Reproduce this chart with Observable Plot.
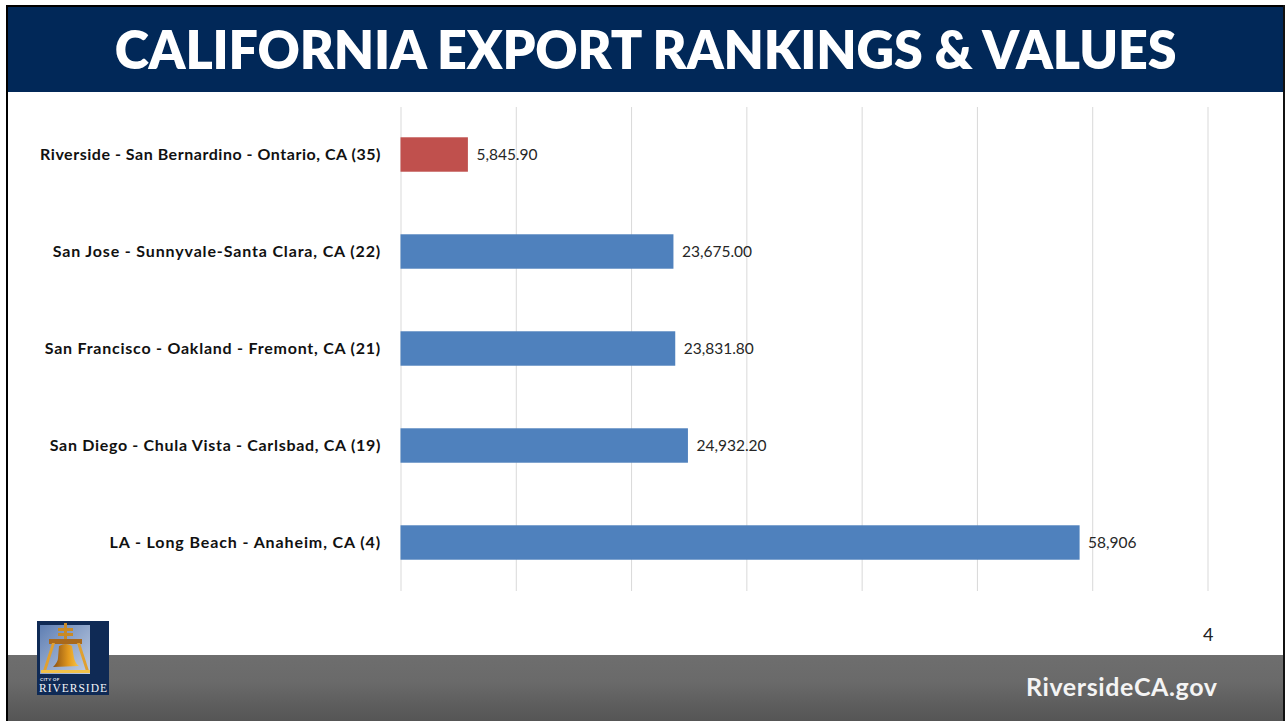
<!DOCTYPE html>
<html>
<head>
<meta charset="utf-8">
<script src="https://cdn.jsdelivr.net/npm/d3@7"></script>
<script src="https://cdn.jsdelivr.net/npm/@observablehq/plot@0.6"></script>
<style>
html,body{margin:0;padding:0;background:#fff;width:1286px;height:721px;overflow:hidden;font-family:Lato,sans-serif}
#frameL{position:absolute;left:6px;top:5px;width:2px;height:716px;background:#000}
#frameT{position:absolute;left:6px;top:5px;width:1279px;height:2px;background:#000}
#frameR{position:absolute;left:1283px;top:5px;width:2px;height:716px;background:#111}
#header{position:absolute;left:8px;top:7px;width:1275px;height:85px;background:#012858;color:#fff;font:800 52px Lato,sans-serif;text-align:center;line-height:84px;letter-spacing:-0.15px;white-space:nowrap}
#footer{position:absolute;left:8px;top:655px;width:1275px;height:66px;background:linear-gradient(#6e6e6e,#6a6a6a 40%,#555);}
#site{position:absolute;left:1026px;top:671px;color:#f4f4f4;font:700 25px Lato,sans-serif;letter-spacing:.6px;white-space:nowrap}
#page{position:absolute;left:1203px;top:623px;color:#222;font:400 18px Lato,sans-serif}
#chart{position:absolute;left:0;top:92px}
#logo{position:absolute;left:37px;top:621px}
</style>
</head>
<body>
<div id="footer"></div>
<div id="frameL"></div><div id="frameT"></div><div id="frameR"></div>
<div id="header">CALIFORNIA EXPORT RANKINGS &amp; VALUES</div>
<div id="chart"></div>
<div id="page">4</div>
<div id="site">RiversideCA.gov</div>
<svg id="logo" width="72" height="74" viewBox="0 0 72 74">
  <defs>
    <linearGradient id="sky" x1="0" y1="0" x2="1" y2="1"><stop offset="0" stop-color="#5f7fb3"/><stop offset="1" stop-color="#c3cfe4"/></linearGradient>
    <linearGradient id="gold" x1="0" y1="0" x2="1" y2="0"><stop offset="0" stop-color="#8a4f12"/><stop offset=".6" stop-color="#e39a1e"/><stop offset="1" stop-color="#f7c64a"/></linearGradient>
  </defs>
  <rect width="72" height="74" fill="#0f2a55"/>
  <rect x="3" y="4" width="50" height="49" fill="url(#sky)"/>
  <rect x="27" y="2" width="3" height="17" fill="#c98a25"/>
  <rect x="21" y="7" width="15" height="3" fill="#c98a25"/>
  <rect x="21" y="12" width="15" height="3" fill="#c98a25"/>
  <rect x="12" y="18" width="33" height="5" fill="#a9691c"/>
  <path d="M15 22 L6 50 L9 50 L18 22Z M40 22 L49 50 L52 50 L43 22Z" fill="#e0a030"/>
  <rect x="4" y="49" width="49" height="3" fill="#f1c14a"/>
  <path d="M22 25 Q29 21 35 25 L37 37 Q38 42 42 45 L16 46 Q21 41 21 37Z" fill="url(#gold)"/>
  <text x="3" y="60" font-family="Lato,sans-serif" font-size="4.5" font-weight="700" fill="#e8edf5" letter-spacing=".4">CITY OF</text>
  <text x="2" y="71" font-family="'Liberation Serif',serif" font-size="11.5" fill="#f2f4f8" textLength="68">RIVERSIDE</text>
</svg>
<script>
const categories = [
  "Riverside - San Bernardino - Ontario, CA (35)",
  "San Jose - Sunnyvale-Santa Clara, CA (22)",
  "San Francisco - Oakland - Fremont, CA (21)",
  "San Diego - Chula Vista - Carlsbad, CA (19)",
  "LA - Long Beach - Anaheim, CA (4)"
];
const values = [5845.9, 23675, 23831.8, 24932.2, 58906];
const valueLabels = ["5,845.90", "23,675.00", "23,831.80", "24,932.20", "58,906"];
const groups = ["Riverside", "Other", "Other", "Other", "Other"];
const gridTicks = [0, 10000, 20000, 30000, 40000, 50000, 60000, 70000];
const labelSpacing = [0.53, 0.85, 0.77, 0.69, 0.89];

const rows = categories.map((c, i) => ({c, v: values[i], label: valueLabels[i], g: groups[i]}));

const plot = Plot.plot({
  width: 1286,
  height: 563,
  marginLeft: 400.5,
  marginRight: 78.5,
  marginTop: 14,
  marginBottom: 64,
  style: {background: "transparent", overflow: "visible"},
  x: {domain: [0, 70000], axis: null},
  y: {domain: categories, paddingInner: 0.645, paddingOuter: 0.3225, round: false, label: null},
  color: {domain: ["Riverside", "Other"], range: ["#c0504d", "#4f81bd"]},
  marks: [
    Plot.ruleX(gridTicks, {stroke: "#d9d9d9", strokeWidth: 1, insetTop: 1}),
    Plot.barX(rows, {x: "v", y: "c", fill: "g"}),
    Plot.text(rows, {x: "v", y: "c", text: "label", textAnchor: "start", dx: 8, fontSize: 15.5, fill: "#262626", fontFamily: "Lato,sans-serif"}),
    Plot.axisY({tickSize: 0, tickPadding: 20, fontSize: 16, fontWeight: 700, fontFamily: "Lato,sans-serif", color: "#111", label: null, textAnchor: "end", lineWidth: 60})
  ]
});
d3.select(plot).selectAll("[aria-label='y-axis tick label'] text").each(function () {
  const i = categories.indexOf(this.textContent);
  if (i >= 0) this.style.letterSpacing = labelSpacing[i] + "px";
});
document.getElementById("chart").appendChild(plot);
</script>
</body>
</html>
